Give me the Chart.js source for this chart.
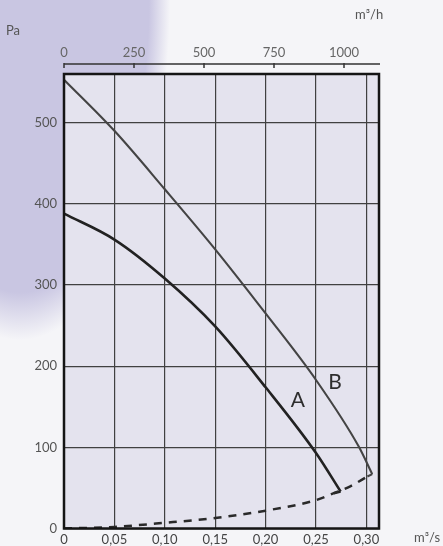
<!DOCTYPE html>
<html>
<head>
<meta charset="utf-8">
<script src="https://cdn.jsdelivr.net/npm/chart.js@4/dist/chart.umd.min.js"></script>
<style>
  html, body { margin: 0; padding: 0; }
  body {
    width: 443px; height: 546px; position: relative; overflow: hidden;
    font-family: Lato, "DejaVu Sans", sans-serif;
    background:
      radial-gradient(ellipse 150px 340px at 20px 0px, rgb(201,198,226) 86%, rgba(201,198,226,0) 100%),
      #f5f5f8;
  }
  canvas { position: absolute; left: 0; top: 0; }
  .unit { position: absolute; font-size: 13px; color: #555; }
</style>
</head>
<body>
<canvas id="grafico" width="443" height="546"></canvas>
<div class="unit" style="left:6px; top:22px;">Pa</div>
<div class="unit" style="left:355px; top:6px;">m³/h</div>
<div class="unit" style="left:414px; top:529px;">m³/s</div>
<script>
// curva A
const vazaoA = [0, 0.05, 0.10, 0.15, 0.20, 0.25, 0.2744];
const pressaoA = [388, 356, 308, 249, 174, 93, 45.6];
// curva B
const vazaoB = [0, 0.05, 0.10, 0.15, 0.20, 0.25, 0.2924, 0.3058];
const pressaoB = [553, 490, 418, 344, 265, 183, 101, 67];
// curva do sistema (tracejada)
const vazaoSis = [0, 0.05, 0.10, 0.15, 0.20, 0.25, 0.2677, 0.284, 0.301];
const pressaoSis = [0, 2, 7, 13, 22, 35, 43.5, 52, 64];
// ganchos no fim das curvas
const ganchoA = [[0.2744, 45.6], [0.2677, 43.5]];
const ganchoB = [[0.3058, 67], [0.301, 64]];

const vazaoMax = 0.3125;
const pressaoMax = 560;
const passoVazao = 0.05;
const passoPressao = 100;
const passoM3h = 250;
const ultimoM3h = 1000;

const rotulos = [
    { texto: 'A', x: 0.232, y: 158 },
    { texto: 'B', x: 0.269, y: 180 }
];

function pontos(xs, ys) {
    return xs.map((x, i) => ({ x: x, y: ys[i] }));
}

const fundoPlugin = {
    id: 'fundo',
    beforeDraw(chart) {
        const { ctx, chartArea: a } = chart;
        ctx.save();
        ctx.fillStyle = '#e4e3ee';
        ctx.fillRect(a.left, a.top, a.right - a.left, a.bottom - a.top);
        ctx.restore();
    },
    afterDraw(chart) {
        const { ctx, chartArea: a, scales } = chart;
        ctx.save();
        // moldura
        ctx.strokeStyle = '#151515';
        ctx.lineWidth = 2.5;
        ctx.strokeRect(a.left, a.top, a.right - a.left, a.bottom - a.top);
        // eixo superior m3/h
        const yLinha = a.top - 10;
        ctx.lineWidth = 1.5;
        ctx.strokeStyle = '#333';
        ctx.beginPath();
        ctx.moveTo(a.left, yLinha);
        ctx.lineTo(a.right + 1, yLinha);
        scales.x2.ticks.forEach(t => {
            const px = scales.x2.getPixelForValue(t.value);
            ctx.moveTo(px, yLinha - 1);
            ctx.lineTo(px, yLinha + 4);
        });
        ctx.stroke();
        // letras A e B
        ctx.fillStyle = '#2e2e2e';
        ctx.font = '21px Lato, "DejaVu Sans", sans-serif';
        ctx.textAlign = 'center';
        ctx.textBaseline = 'middle';
        rotulos.forEach(r => {
            ctx.fillText(r.texto, scales.x.getPixelForValue(r.x), scales.y.getPixelForValue(r.y));
        });
        ctx.restore();
    }
};

const fonte = { family: 'Lato, "DejaVu Sans", sans-serif', size: 13 };

new Chart(document.getElementById('grafico'), {
    type: 'line',
    data: {
        datasets: [{
            label: 'Sistema',
            data: pontos(vazaoSis, pressaoSis),
            borderColor: '#2a2a2a',
            borderWidth: 2.5,
            borderDash: [8, 7],
            cubicInterpolationMode: 'monotone',
            pointRadius: 0
        },
        {
            label: 'A',
            data: pontos(vazaoA, pressaoA),
            borderColor: '#222',
            borderWidth: 2.6,
            cubicInterpolationMode: 'monotone',
            pointRadius: 0
        },
        {
            label: 'B',
            data: pontos(vazaoB, pressaoB),
            borderColor: '#444',
            borderWidth: 2.1,
            cubicInterpolationMode: 'monotone',
            pointRadius: 0
        },
        {
            label: 'ganchoA',
            data: ganchoA.map(p => ({ x: p[0], y: p[1] })),
            borderColor: '#222',
            borderWidth: 2.5,
            pointRadius: 0
        },
        {
            label: 'ganchoB',
            data: ganchoB.map(p => ({ x: p[0], y: p[1] })),
            borderColor: '#444',
            borderWidth: 2.1,
            pointRadius: 0
        }]
    },
    options: {
        responsive: false,
        animation: false,
        layout: { padding: { right: 64, left: 0, top: 0, bottom: 0 } },
        plugins: { legend: { display: false }, tooltip: { enabled: false } },
        scales: {
            x: {
                type: 'linear',
                min: 0,
                max: vazaoMax,
                afterFit: s => { s.height = 17.5; },
                afterBuildTicks: s => {
                    s.ticks = [];
                    for (let v = 0; v <= vazaoMax + 1e-9; v += passoVazao) s.ticks.push({ value: +v.toFixed(2) });
                },
                ticks: {
                    padding: 4,
                    color: '#444',
                    font: fonte,
                    maxRotation: 0,
                    callback: v => v === 0 ? '0' : v.toFixed(2).replace('.', ',')
                },
                grid: { color: '#404040', lineWidth: 1.2, drawTicks: false },
                border: { display: false }
            },
            x2: {
                type: 'linear',
                position: 'top',
                min: 0,
                max: vazaoMax * 3600,
                afterFit: s => { s.height = 74; },
                afterBuildTicks: s => {
                    s.ticks = [];
                    for (let v = 0; v <= ultimoM3h; v += passoM3h) s.ticks.push({ value: v });
                },
                ticks: {
                    padding: 13,
                    color: '#666',
                    font: fonte,
                    maxRotation: 0,
                    callback: v => String(v)
                },
                grid: { display: false, drawTicks: false },
                border: { display: false }
            },
            y: {
                min: 0,
                max: pressaoMax,
                afterFit: s => { s.width = 64; },
                afterBuildTicks: s => {
                    s.ticks = [];
                    for (let v = 0; v <= pressaoMax; v += passoPressao) s.ticks.push({ value: v });
                },
                ticks: {
                    padding: 7,
                    color: '#555',
                    font: fonte
                },
                grid: { color: '#404040', lineWidth: 1.2, drawTicks: false },
                border: { display: false }
            }
        }
    },
    plugins: [fundoPlugin]
});
</script>
</body>
</html>
